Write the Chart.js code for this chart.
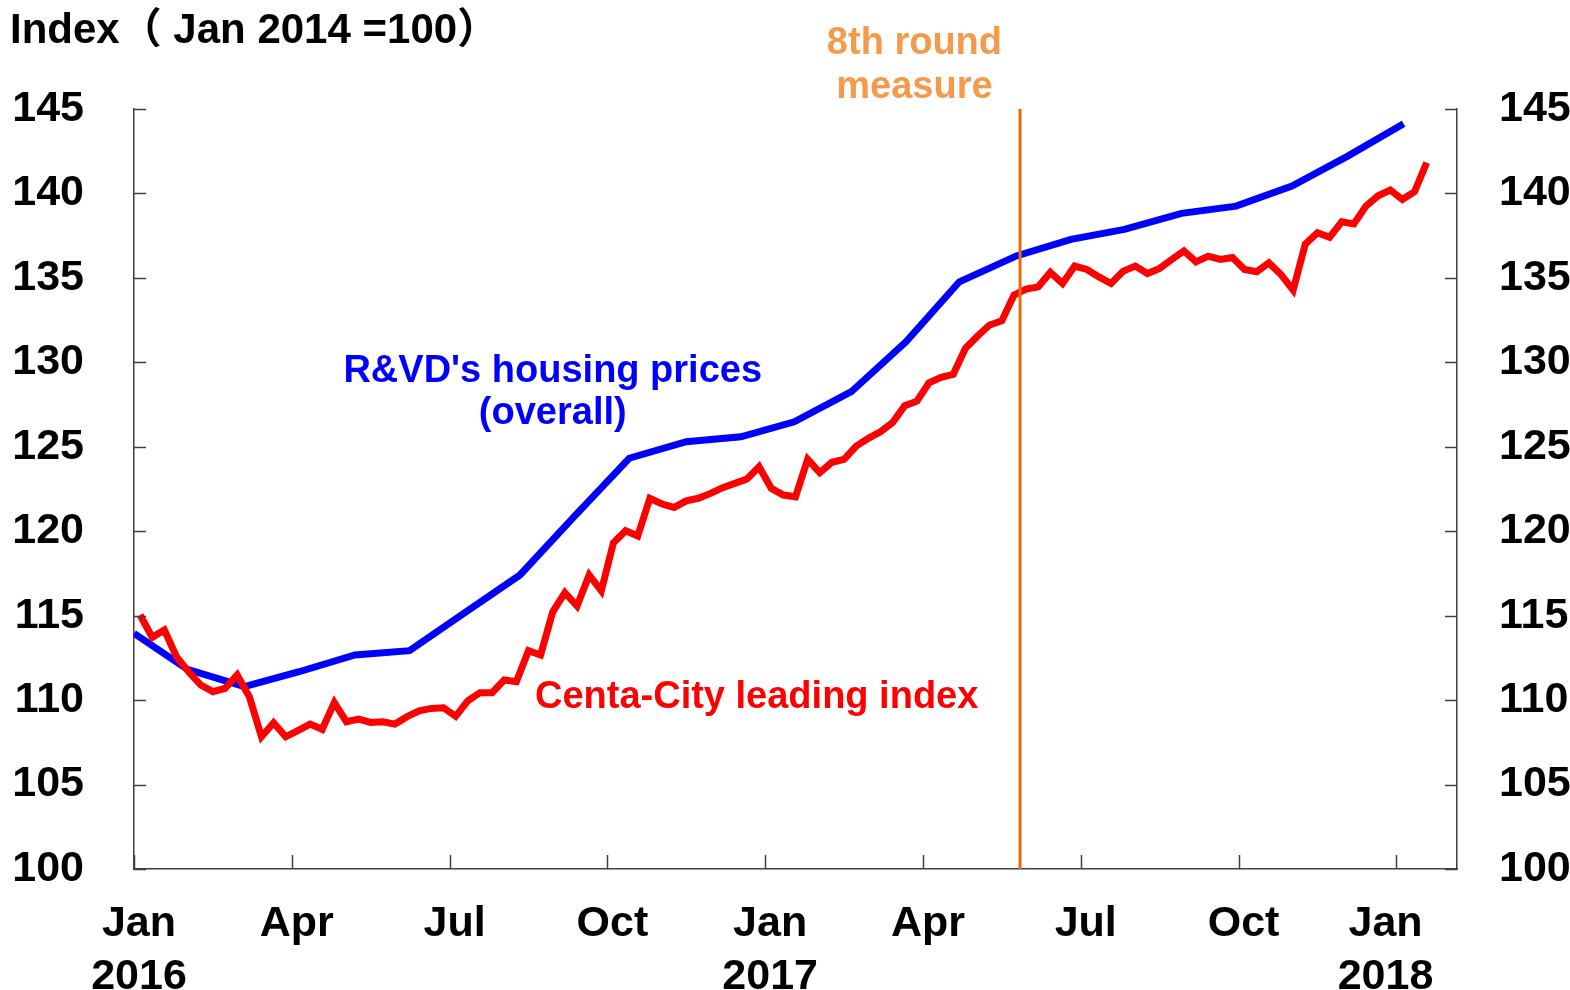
<!DOCTYPE html>
<html>
<head>
<meta charset="utf-8">
<script src="https://cdn.jsdelivr.net/npm/chart.js@4.4.1/dist/chart.umd.min.js"></script>
<style>
html, body { margin: 0; padding: 0; background: #fff; }
</style>
</head>
<body>
<canvas id="grafico" width="1570" height="990"></canvas>
<script>
// eje x en semanas (0 = primera semana de ene 2016)
const semanasTrimestre = [-0.5, 12.5, 25.5, 38.5, 51.5, 64.5, 77.5, 90.5, 103.5]
const semanasEtiqueta = [-0.5, 12.5, 25.5, 38.5, 51.5, 64.5, 77.5, 90.5, 102.2]
const etiquetasX = [['Jan', '2016'], 'Apr', 'Jul', 'Oct', ['Jan', '2017'], 'Apr', 'Jul', 'Oct', ['Jan', '2018']]
const ticksY = [100, 105, 110, 115, 120, 125, 130, 135, 140, 145]

// R&VD (mensual), posicion en semanas
const semanasRvd = [-0.5, 3.9, 8.6, 13.1, 17.7, 22.2, 26.7, 31.3, 35.8, 40.3, 45.0, 49.5,
  53.9, 58.6, 63.1, 67.5, 72.2, 76.7, 81.1, 85.8, 90.3, 94.9, 99.5, 104.1]
const valoresRvd = [113.95, 111.82, 110.8, 111.68, 112.67, 112.93, 115.15, 117.41, 120.9, 124.32, 125.3, 125.59,
  126.48, 128.26, 131.22, 134.77, 136.3, 137.28, 137.87, 138.82, 139.25, 140.44, 142.21, 144.13]

// Centa-City (semanal)
const valoresCcl = [
  115.04, 113.72, 114.15, 112.57, 111.68, 110.89, 110.5, 110.7, 111.49, 110.2,
  107.83, 108.66, 107.83, 108.19, 108.58, 108.27, 109.85, 108.72, 108.88, 108.68,
  108.72, 108.58, 109.02, 109.37, 109.51, 109.55, 109.04, 109.95, 110.44, 110.44,
  111.19, 111.09, 112.93, 112.67, 115.23, 116.36, 115.57, 117.41, 116.47, 119.32,
  120.03, 119.72, 121.95, 121.61, 121.41, 121.8, 121.95, 122.24, 122.58, 122.83,
  123.09, 123.82, 122.54, 122.14, 122.04, 124.26, 123.47, 124.08, 124.26, 125.04,
  125.5, 125.89, 126.43, 127.43, 127.7, 128.79, 129.11, 129.29, 130.83, 131.56,
  132.21, 132.46, 133.98, 134.34, 134.47, 135.33, 134.67, 135.7, 135.5, 135.06,
  134.67, 135.4, 135.7, 135.26, 135.56, 136.09, 136.6, 135.95, 136.29, 136.09,
  136.21, 135.5, 135.36, 135.89, 135.2, 134.28, 137.0, 137.67, 137.4, 138.32,
  138.19, 139.25, 139.86, 140.2, 139.64, 140.1, 141.82
]

const semanaMedida = 72.5

const fuente = "'Liberation Sans', Arial, 'Noto Sans CJK SC', sans-serif"

const datosRvd = semanasRvd.map((s, i) => ({ x: s, y: valoresRvd[i] }))
const datosCcl = valoresCcl.map((v, i) => ({ x: i, y: v }))

const textos = {
  id: 'textos',
  afterDatasetsDraw(chart) {
    const { ctx, chartArea, scales } = chart
    const px = scales.x.getPixelForValue(semanaMedida)
    ctx.save()
    ctx.strokeStyle = '#E46C0A'
    ctx.lineWidth = 3
    ctx.beginPath()
    ctx.moveTo(px, chartArea.top)
    ctx.lineTo(px, chartArea.bottom)
    ctx.stroke()
    ctx.restore()
  },
  afterDraw(chart) {
    const { ctx, chartArea: a, scales } = chart
    const x = scales.x, y = scales.y
    ctx.save()
    // marcas hacia adentro
    ctx.strokeStyle = '#404040'
    ctx.lineWidth = 1.5
    ctx.beginPath()
    ticksY.forEach(v => {
      const py = Math.round(y.getPixelForValue(v)) + 0.5
      ctx.moveTo(a.left, py); ctx.lineTo(a.left + 12, py)
      ctx.moveTo(a.right - 12, py); ctx.lineTo(a.right, py)
    })
    semanasTrimestre.forEach(s => {
      const px = Math.round(x.getPixelForValue(s)) + 0.5
      ctx.moveTo(px, a.bottom); ctx.lineTo(px, a.bottom - 14)
    })
    ctx.stroke()

    ctx.textBaseline = 'middle'
    ctx.font = 'bold 42px ' + fuente
    ctx.fillStyle = '#000'
    ctx.textAlign = 'left'
    ctx.fillText('Index（ Jan 2014 =100）', 10, 31)

    ctx.font = 'bold 38px ' + fuente
    ctx.textAlign = 'center'
    ctx.fillStyle = '#F59A4B'
    ctx.fillText('8th round', x.getPixelForValue(63.8), y.getPixelForValue(148.85))
    ctx.fillText('measure', x.getPixelForValue(63.8), y.getPixelForValue(146.3))

    ctx.fillStyle = '#0000FF'
    ctx.fillText("R&VD's housing prices", x.getPixelForValue(34.0), y.getPixelForValue(129.45))
    ctx.fillText('(overall)', x.getPixelForValue(34.0), y.getPixelForValue(126.95))

    ctx.fillStyle = '#FF0000'
    ctx.fillText('Centa-City leading index', x.getPixelForValue(50.8), y.getPixelForValue(110.15))
    ctx.restore()
  }
}

const ejeY = (pos, ancho, pad) => ({
  type: 'linear',
  position: pos,
  min: 100,
  max: 145,
  afterBuildTicks: (s) => { s.ticks = ticksY.map(v => ({ value: v })) },
  afterFit: (s) => { s.width = ancho },
  grid: { display: false, drawTicks: false },
  border: { display: true, color: '#404040', width: 1.5 },
  ticks: { padding: pad, color: '#000', font: { size: 43, weight: 'bold', family: fuente } }
})

new Chart(document.getElementById('grafico'), {
  type: 'line',
  data: {
    datasets: [{
      label: 'Centa-City leading index',
      data: datosCcl,
      borderColor: '#FF0000',
      borderWidth: 7,
      pointRadius: 0,
      tension: 0,
      yAxisID: 'y'
    }, {
      label: "R&VD's housing prices (overall)",
      data: datosRvd,
      borderColor: '#0000FF',
      borderWidth: 7,
      pointRadius: 0,
      tension: 0,
      yAxisID: 'y'
    }]
  },
  options: {
    responsive: false,
    animation: false,
    devicePixelRatio: 1,
    layout: { padding: { top: 109, left: 0, right: 0, bottom: 0 } },
    plugins: { legend: { display: false }, tooltip: { enabled: false }, title: { display: false } },
    scales: {
      x: {
        type: 'linear',
        position: 'bottom',
        min: -0.5,
        max: 108.5,
        afterBuildTicks: (s) => { s.ticks = semanasEtiqueta.map(v => ({ value: v })) },
        afterFit: (s) => { s.height = 121 },
        grid: { display: false, drawTicks: false },
        border: { display: true, color: '#404040', width: 1.5 },
        ticks: {
          autoSkip: false,
          maxRotation: 0,
          padding: 29,
          labelOffset: 5,
          color: '#000',
          font: { size: 43, weight: 'bold', family: fuente, lineHeight: 1.22 },
          callback: (v, i) => etiquetasX[i]
        }
      },
      y: ejeY('left', 134, 50),
      y2: ejeY('right', 113, 42)
    }
  },
  plugins: [textos]
})
</script>
</body>
</html>
